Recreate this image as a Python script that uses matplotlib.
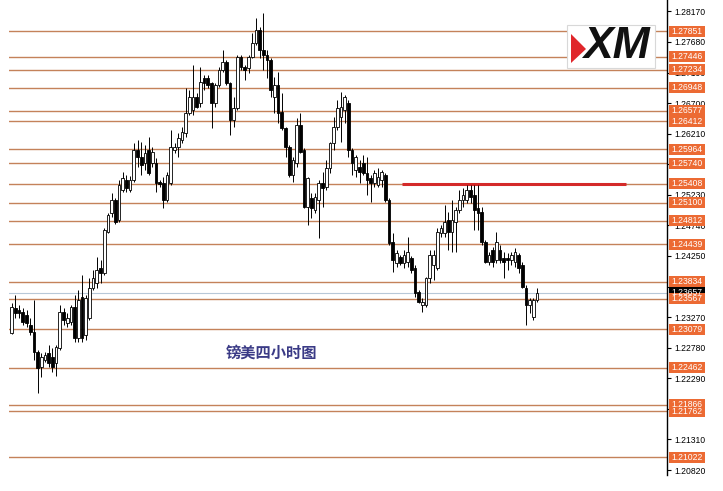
import matplotlib
matplotlib.use("Agg")
import matplotlib.pyplot as plt
from matplotlib.patches import Rectangle, Polygon
import numpy as np

# GBP/USD H4 candles
OPEN = [1.23016, 1.23416, 1.23384, 1.23352, 1.23304, 1.23144, 1.23032, 1.22711, 1.22471, 1.22583,
        1.22695, 1.22631, 1.22535, 1.22775, 1.23352, 1.23176, 1.23192, 1.23432, 1.22936, 1.23593,
        1.22984, 1.23256, 1.23737, 1.23817, 1.24057, 1.23977, 1.24635, 1.24939, 1.25147, 1.24827,
        1.25308, 1.25468, 1.25308, 1.25468, 1.25949, 1.25837, 1.25740, 1.25949, 1.25740, 1.25740,
        1.25436, 1.25420, 1.25147, 1.25420, 1.25949, 1.25997, 1.26109, 1.26221, 1.26542, 1.26590,
        1.26798, 1.26702, 1.27103, 1.27103, 1.27023, 1.26702, 1.26991, 1.27231, 1.27359, 1.27023,
        1.26430, 1.26622, 1.27439, 1.27279, 1.27263, 1.27439, 1.27664, 1.27872, 1.27552, 1.27471,
        1.27391, 1.26798, 1.26991, 1.26558, 1.26301, 1.25997, 1.25548, 1.25740, 1.26349, 1.25949,
        1.25035, 1.25179, 1.24987, 1.25147, 1.25420, 1.25356, 1.25660, 1.26061, 1.26317, 1.26478,
        1.26590, 1.26702, 1.25949, 1.25628, 1.25676, 1.25740, 1.25580, 1.25500, 1.25420, 1.25388,
        1.25468, 1.25548, 1.25147, 1.24474, 1.24138, 1.24234, 1.24138, 1.24154, 1.24218, 1.24057,
        1.23673, 1.23464, 1.23464, 1.23897, 1.24106, 1.24057, 1.24618, 1.24618, 1.24827, 1.24635,
        1.24795, 1.24987, 1.25147, 1.25147, 1.25308, 1.25228, 1.25019, 1.24955, 1.24474, 1.24154,
        1.24346, 1.24186, 1.24346, 1.24218, 1.24218, 1.24186, 1.24154, 1.24266, 1.24106, 1.23737,
        1.23464, 1.23272, 1.23545]
HIGH = [1.23497, 1.23625, 1.23464, 1.23416, 1.23384, 1.23256, 1.23545, 1.22743, 1.22695, 1.22711,
        1.22823, 1.22775, 1.22823, 1.23464, 1.23416, 1.23336, 1.23464, 1.23625, 1.23705, 1.23945,
        1.23625, 1.23897, 1.24025, 1.24234, 1.24186, 1.24699, 1.24939, 1.25260, 1.25179, 1.25468,
        1.25596, 1.25548, 1.25532, 1.26061, 1.26109, 1.26077, 1.26029, 1.26157, 1.25997, 1.25821,
        1.25468, 1.25516, 1.25596, 1.26269, 1.26061, 1.26221, 1.26317, 1.26943, 1.26910, 1.27311,
        1.26862, 1.27279, 1.27151, 1.27151, 1.27039, 1.27023, 1.27279, 1.27552, 1.27391, 1.27039,
        1.26798, 1.27471, 1.27471, 1.27311, 1.27471, 1.27824, 1.28064, 1.27920, 1.28145, 1.27552,
        1.27423, 1.27119, 1.27199, 1.26862, 1.26317, 1.26029, 1.25837, 1.26462, 1.26542, 1.25981,
        1.25516, 1.25260, 1.25260, 1.25468, 1.25596, 1.25789, 1.26077, 1.26478, 1.26750, 1.26878,
        1.26830, 1.26750, 1.25981, 1.25869, 1.25789, 1.25869, 1.25837, 1.25548, 1.25628, 1.25660,
        1.25628, 1.25580, 1.25179, 1.24618, 1.24346, 1.24266, 1.24346, 1.24554, 1.24250, 1.24106,
        1.23705, 1.23577, 1.23913, 1.24346, 1.24346, 1.24699, 1.24747, 1.25067, 1.24955, 1.25147,
        1.25035, 1.25308, 1.25340, 1.25388, 1.25388, 1.25388, 1.25388, 1.25035, 1.24506, 1.24314,
        1.24394, 1.24635, 1.24426, 1.24314, 1.24298, 1.24314, 1.24378, 1.24298, 1.24154, 1.23785,
        1.23577, 1.23577, 1.23737]
LOW = [1.22999, 1.23256, 1.23256, 1.23144, 1.23112, 1.22984, 1.22583, 1.22054, 1.22310, 1.22551,
       1.22471, 1.22391, 1.22326, 1.22743, 1.23144, 1.23112, 1.23144, 1.22871, 1.22871, 1.22871,
       1.22903, 1.23224, 1.23705, 1.23737, 1.23817, 1.23945, 1.24618, 1.24875, 1.24763, 1.24795,
       1.25276, 1.25276, 1.25276, 1.25436, 1.25676, 1.25548, 1.25628, 1.25548, 1.25676, 1.25276,
       1.25356, 1.25019, 1.25115, 1.25388, 1.25901, 1.25837, 1.26061, 1.26157, 1.26510, 1.26510,
       1.26622, 1.26638, 1.26910, 1.26943, 1.26301, 1.26638, 1.26959, 1.27199, 1.26991, 1.26189,
       1.26317, 1.26590, 1.27231, 1.27071, 1.27183, 1.27423, 1.27632, 1.27423, 1.27231, 1.27103,
       1.26798, 1.26542, 1.26382, 1.26269, 1.25837, 1.25516, 1.25436, 1.25676, 1.25901, 1.25019,
       1.24747, 1.24859, 1.24939, 1.24538, 1.25035, 1.25308, 1.25580, 1.25949, 1.26269, 1.26077,
       1.26382, 1.25837, 1.25548, 1.25516, 1.25420, 1.25548, 1.25228, 1.25115, 1.25356, 1.25356,
       1.25356, 1.25115, 1.24426, 1.23993, 1.24074, 1.24106, 1.24057, 1.24074, 1.23977, 1.23593,
       1.23497, 1.23352, 1.23432, 1.23817, 1.23865, 1.24025, 1.24554, 1.24554, 1.24346, 1.24314,
       1.24314, 1.24939, 1.25035, 1.25099, 1.25099, 1.24667, 1.24667, 1.24426, 1.24138, 1.24106,
       1.24074, 1.24138, 1.24138, 1.23897, 1.24025, 1.24106, 1.24074, 1.23977, 1.23737, 1.23144,
       1.23336, 1.23224, 1.23513]
CLOSE = [1.23432, 1.23336, 1.23336, 1.23192, 1.23176, 1.23032, 1.22711, 1.22455, 1.22631, 1.22663,
         1.22535, 1.22471, 1.22791, 1.23352, 1.23224, 1.23256, 1.23432, 1.22936, 1.23545, 1.22936,
         1.23577, 1.23737, 1.23897, 1.24025, 1.23977, 1.24667, 1.24907, 1.25147, 1.24795, 1.25388,
         1.25500, 1.25340, 1.25468, 1.25949, 1.25837, 1.25708, 1.25901, 1.25580, 1.25917, 1.25420,
         1.25404, 1.25147, 1.25548, 1.25997, 1.25997, 1.26141, 1.26237, 1.26542, 1.26798, 1.26798,
         1.26638, 1.27039, 1.27023, 1.26991, 1.26702, 1.26991, 1.27231, 1.27359, 1.27023, 1.26430,
         1.26622, 1.27439, 1.27279, 1.27231, 1.27439, 1.27664, 1.27872, 1.27552, 1.27471, 1.27391,
         1.26910, 1.26991, 1.26542, 1.26301, 1.25997, 1.25548, 1.25789, 1.26349, 1.25917, 1.25035,
         1.25500, 1.25019, 1.25195, 1.25420, 1.25340, 1.25660, 1.26061, 1.26317, 1.26622, 1.26638,
         1.26798, 1.25949, 1.25740, 1.25837, 1.25596, 1.25580, 1.25468, 1.25420, 1.25580, 1.25516,
         1.25596, 1.25147, 1.24458, 1.24186, 1.24298, 1.24138, 1.24266, 1.24314, 1.24025, 1.23657,
         1.23513, 1.23513, 1.23897, 1.24266, 1.24266, 1.24635, 1.24699, 1.24795, 1.24635, 1.24827,
         1.24987, 1.25147, 1.25228, 1.25308, 1.25195, 1.24987, 1.24939, 1.24474, 1.24154, 1.24266,
         1.24154, 1.24474, 1.24186, 1.24154, 1.24186, 1.24266, 1.24314, 1.24057, 1.23753, 1.23464,
         1.23545, 1.23545, 1.23657]

LEVELS = [1.27851, 1.27446, 1.27234, 1.26948, 1.26577, 1.26412, 1.25964, 1.25740, 1.25408, 1.25100,
          1.24812, 1.24439, 1.23834, 1.23567, 1.23079, 1.22462, 1.21866, 1.21762, 1.21022]
RED_LEVEL = 1.25408
YTICKS = [1.28170, 1.27680, 1.27190, 1.26700, 1.26210, 1.25720, 1.25230, 1.24740,
          1.24250, 1.23760, 1.23270, 1.22780, 1.22290, 1.21800, 1.21310, 1.20820]
TITLE = "镑美四小时图"

W, H = 723, 491
YMIN, YMAX = 1.20740, 1.28353
fig = plt.figure(figsize=(W / 100, H / 100), dpi=100)
ax = fig.add_axes([9 / W, 16 / H, 658 / W, 475 / H])
ax.set_xlim(-0.73, 177.1)
ax.set_ylim(YMIN, YMAX)
for s in ("left", "top", "bottom"):
    ax.spines[s].set_visible(False)
ax.spines["right"].set_linewidth(1.0)
ax.set_xticks([])
ax.yaxis.tick_right()
ax.set_yticks(YTICKS)
ax.set_yticklabels([f"{t:.5f}" for t in YTICKS], family="Liberation Sans")
ax.tick_params(axis="y", length=3, width=0.8, pad=2, labelsize=6.2)

# support / resistance lines
for lv in LEVELS:
    ax.axhline(lv, color="#c4825a", lw=1.0, zorder=1)
ax.axhline(CLOSE[-1], color="#b8c8d8", lw=0.8, zorder=1)
ax.hlines(RED_LEVEL, 105.5, 166, color="#d42a2a", lw=2.2, zorder=2)

# candles
x = np.arange(len(CLOSE))
o, h, l, c = map(np.array, (OPEN, HIGH, LOW, CLOSE))
up = c >= o
ax.vlines(x, l, h, color="black", lw=0.7, zorder=3)
ax.bar(x, np.maximum(np.abs(c - o), 0.00004), bottom=np.minimum(o, c), width=0.72,
       color=np.where(up, "white", "black"), edgecolor="black", linewidth=0.6, zorder=4)

ax.text(70.1, 1.22695, TITLE, ha="center", va="center", fontsize=11, fontweight="bold",
        color="#3b3b86", family=["Noto Sans CJK SC", "DejaVu Sans"], zorder=5)

# price labels on the right
tr = ax.get_yaxis_transform()
lab_h = 11 * (YMAX - YMIN) / 475
def price_label(lv, fc):
    ax.add_patch(Rectangle((1.003, lv - lab_h / 2), 0.054, lab_h, transform=tr, clip_on=False,
                           facecolor=fc, edgecolor="none", zorder=6))
    ax.text(1.030, lv, f"{lv:.5f}", transform=tr, ha="center", va="center", color="white",
            fontsize=6.2, family="Liberation Sans", clip_on=False, zorder=7)

price_label(CLOSE[-1], "black")
for lv in LEVELS:
    price_label(lv, "#ec6a33")

# XM logo
def fx(px): return px / W
def fy(py): return 1 - py / H
fig.add_artist(Rectangle((fx(567), fy(68)), 88 / W, 43 / H, transform=fig.transFigure,
                         facecolor="white", edgecolor="#d8d8d8", lw=0.8, zorder=10))
fig.add_artist(Polygon([(fx(571), fy(34)), (fx(586), fy(49)), (fx(571), fy(63))],
                       closed=True, transform=fig.transFigure, facecolor="#e0262b",
                       edgecolor="none", zorder=11))
fig.text(fx(616), fy(47), "XM", ha="center", va="center", fontsize=32, fontweight="bold",
         style="italic", family="Liberation Sans", color="#111111", zorder=12)

fig.savefig("out.png", dpi=100, facecolor="white")
